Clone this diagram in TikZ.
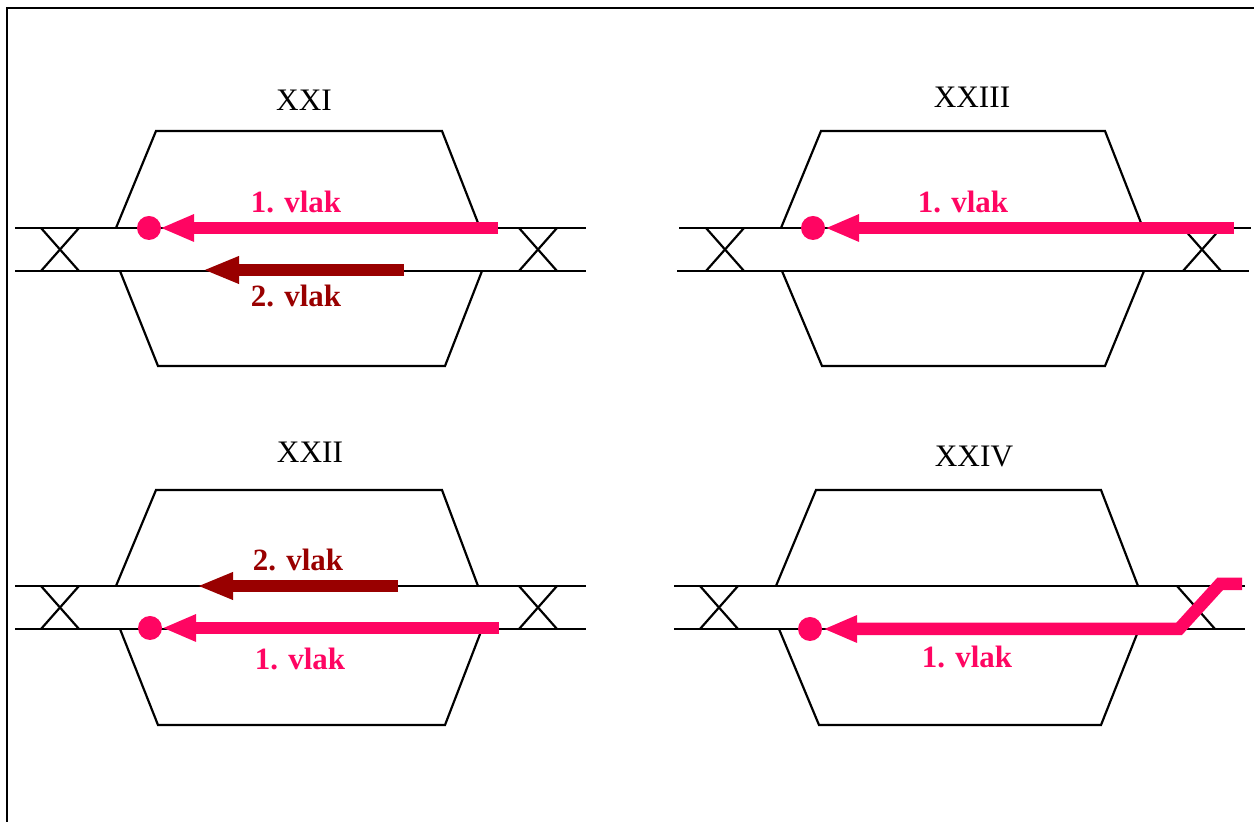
\documentclass[tikz,border=0pt]{standalone}
\usepackage{fontspec}
\setmainfont{Liberation Serif}
\usetikzlibrary{arrows.meta}
\definecolor{vlakone}{HTML}{FF0562}
\definecolor{vlaktwo}{HTML}{990000}
\tikzset{
  rail/.style={black, line width=0.62pt},
  trainone/.style={vlakone, line width=1.25mm, -{Triangle[length=3.4mm, width=2.5mm]}},
  traintwo/.style={vlaktwo, line width=1.25mm, -{Triangle[length=3.6mm, width=2.5mm]}},
  title/.style={font=\fontsize{8.9}{9}\selectfont},
  labelone/.style={text=vlakone, font=\fontsize{8.8}{9}\selectfont\bfseries},
  labeltwo/.style={text=vlaktwo, font=\fontsize{8.8}{9}\selectfont\bfseries}
}
\begin{document}
\begin{tikzpicture}[x=0.01cm, y=-0.01cm]
  \useasboundingbox (0, 0) rectangle (1254, 822);
  \draw[rail] (7, 822) -- (7, 8) -- (1254, 8);

  % XXI
  \draw[rail] (15, 228) -- (586, 228);
  \draw[rail] (15, 271) -- (586, 271);
  \draw[rail] (116, 228) -- (156, 131) -- (442, 131) -- (480, 228);
  \draw[rail] (120, 271) -- (158, 366) -- (445, 366) -- (482, 271);
  \foreach \xa in {41, 519} {
    \draw[rail] (\xa, 228) -- (\xa + 38, 271);
    \draw[rail] (\xa + 38, 228) -- (\xa, 271);
  }
  \node[title] (xxi) at (304, 100) {XXI};
  \draw[trainone] (498, 228) -- (160, 228);
  \fill[vlakone] (149, 228) circle (12);
  \draw[traintwo] (404, 270) -- (203, 270);
  \node[labelone] (xxivlakone) at (296, 202) {1. vlak};
  \node[labeltwo] (xxivlaktwo) at (296, 296) {2. vlak};

  % XXIII
  \draw[rail] (679, 228) -- (1251, 228);
  \draw[rail] (677, 271) -- (1249, 271);
  \draw[rail] (781, 228) -- (821, 131) -- (1105, 131) -- (1143, 228);
  \draw[rail] (782, 271) -- (822, 366) -- (1105, 366) -- (1144, 271);
  \foreach \xa in {706, 1183} {
    \draw[rail] (\xa, 228) -- (\xa + 38, 271);
    \draw[rail] (\xa + 38, 228) -- (\xa, 271);
  }
  \node[title] (xxiii) at (972, 97) {XXIII};
  \draw[trainone] (1234, 228) -- (825, 228);
  \fill[vlakone] (813, 228) circle (12);
  \node[labelone] (xxiiivlakone) at (963, 202) {1. vlak};

  % XXII
  \draw[rail] (15, 586) -- (586, 586);
  \draw[rail] (15, 629) -- (586, 629);
  \draw[rail] (116, 586) -- (156, 490) -- (442, 490) -- (478, 586);
  \draw[rail] (120, 629) -- (158, 725) -- (445, 725) -- (482, 629);
  \foreach \xa in {41, 519} {
    \draw[rail] (\xa, 586) -- (\xa + 38, 629);
    \draw[rail] (\xa + 38, 586) -- (\xa, 629);
  }
  \node[title] (xxii) at (310, 452) {XXII};
  \draw[trainone] (499, 628) -- (162, 628);
  \fill[vlakone] (150, 628) circle (12);
  \draw[traintwo] (398, 586) -- (197, 586);
  \node[labeltwo] (xxiivlaktwo) at (298, 560) {2. vlak};
  \node[labelone] (xxiivlakone) at (300, 659) {1. vlak};

  % XXIV
  \draw[rail] (674, 586) -- (1245, 586);
  \draw[rail] (674, 629) -- (1245, 629);
  \draw[rail] (776, 586) -- (816, 490) -- (1101, 490) -- (1138, 586);
  \draw[rail] (779, 629) -- (819, 725) -- (1101, 725) -- (1139, 629);
  \foreach \xa in {700, 1177} {
    \draw[rail] (\xa, 586) -- (\xa + 38, 629);
    \draw[rail] (\xa + 38, 586) -- (\xa, 629);
  }
  \node[title] (xxiv) at (974, 456) {XXIV};
  \draw[trainone] (1242, 584) -- (1220, 584) -- (1179, 629) -- (823, 629);
  \fill[vlakone] (810, 629) circle (12);
  \node[labelone] (xxivvlakone) at (967, 657) {1. vlak};
\end{tikzpicture}
\end{document}
